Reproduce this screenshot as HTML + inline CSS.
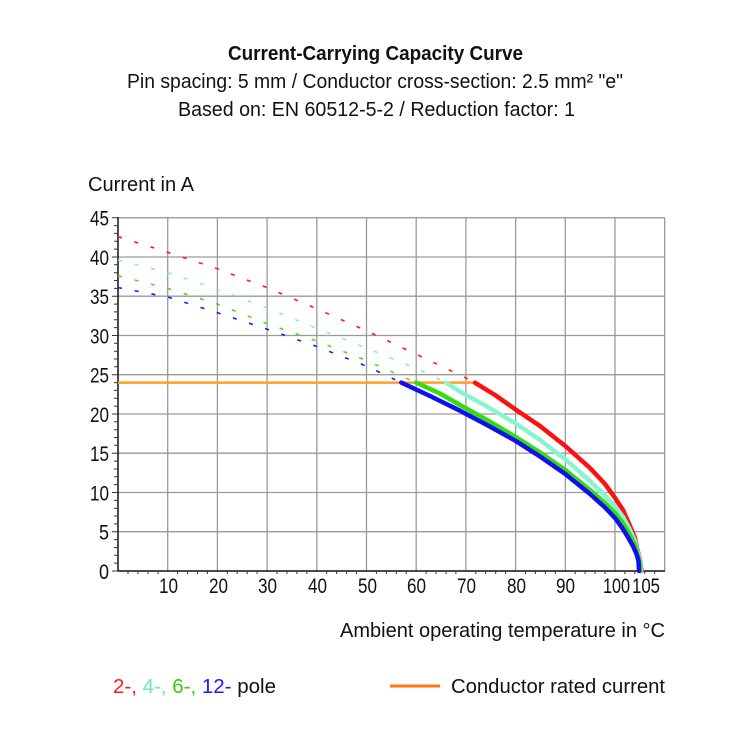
<!DOCTYPE html>
<html><head><meta charset="utf-8"><style>
html,body{margin:0;padding:0;background:#fff;}
svg{display:block;font-family:"Liberation Sans Narrow","Liberation Sans",sans-serif;}
</style></head><body>
<svg width="750" height="750" viewBox="0 0 750 750" xmlns="http://www.w3.org/2000/svg">
<g fill="#111">
<text x="228" y="60" font-size="20" font-weight="bold" textLength="295" lengthAdjust="spacingAndGlyphs">Current-Carrying Capacity Curve</text>
<text x="127" y="88" font-size="20" textLength="496" lengthAdjust="spacingAndGlyphs">Pin spacing: 5 mm / Conductor cross-section: 2.5 mm² "e"</text>
<text x="178" y="116" font-size="20" textLength="397" lengthAdjust="spacingAndGlyphs">Based on: EN 60512-5-2 / Reduction factor: 1</text>
<text x="88" y="191" font-size="20" textLength="106" lengthAdjust="spacingAndGlyphs">Current in A</text>
</g>
<g stroke="#9a9a9a" stroke-width="1.3">
<line x1="167.7" y1="217.7" x2="167.7" y2="571"/><line x1="217.4" y1="217.7" x2="217.4" y2="571"/>
<line x1="267.1" y1="217.7" x2="267.1" y2="571"/><line x1="316.8" y1="217.7" x2="316.8" y2="571"/>
<line x1="366.5" y1="217.7" x2="366.5" y2="571"/><line x1="416.2" y1="217.7" x2="416.2" y2="571"/>
<line x1="465.9" y1="217.7" x2="465.9" y2="571"/><line x1="515.6" y1="217.7" x2="515.6" y2="571"/>
<line x1="565.3" y1="217.7" x2="565.3" y2="571"/><line x1="615" y1="217.7" x2="615" y2="571"/>
<line x1="664.7" y1="217.7" x2="664.7" y2="571"/>
<line x1="118" y1="217.7" x2="664.7" y2="217.7"/><line x1="118" y1="257" x2="664.7" y2="257"/>
<line x1="118" y1="296.2" x2="664.7" y2="296.2"/><line x1="118" y1="335.5" x2="664.7" y2="335.5"/>
<line x1="118" y1="374.7" x2="664.7" y2="374.7"/><line x1="118" y1="414" x2="664.7" y2="414"/>
<line x1="118" y1="453.2" x2="664.7" y2="453.2"/><line x1="118" y1="492.5" x2="664.7" y2="492.5"/>
<line x1="118" y1="531.7" x2="664.7" y2="531.7"/>
</g>
<line x1="118" y1="217" x2="118" y2="571" stroke="#111" stroke-width="1.5"/>
<line x1="118" y1="571" x2="665" y2="571" stroke="#111" stroke-width="1.5"/>
<g stroke="#333" stroke-width="1">
<path d="M114 563.15h4M114 555.3h4M114 547.45h4M114 539.6h4M114 523.9h4M114 516h4M114 508.2h4M114 500.4h4M114 484.6h4M114 476.8h4M114 469h4M114 461.1h4M114 445.3h4M114 437.5h4M114 429.7h4M114 421.8h4M114 406.1h4M114 398.3h4M114 390.4h4M114 382.6h4M114 366.8h4M114 359h4M114 351.2h4M114 343.3h4M114 327.6h4M114 319.8h4M114 311.9h4M114 304.1h4M114 288.4h4M114 280.5h4M114 272.7h4M114 264.8h4M114 249.1h4M114 241.3h4M114 233.4h4M114 225.6h4M112 571h6M112 531.7h6M112 492.5h6M112 453.2h6M112 414h6M112 374.7h6M112 335.5h6M112 296.2h6M112 257h6M112 217.7h6"/>
<path d="M128 571v3M138 571v3M148 571v3M158 571v3M177.6 571v3M187.5 571v3M197.5 571v3M207.4 571v3M227.3 571v3M237.2 571v3M247.2 571v3M257.1 571v3M277 571v3M286.9 571v3M296.9 571v3M306.8 571v3M326.7 571v3M336.6 571v3M346.6 571v3M356.5 571v3M376.4 571v3M386.3 571v3M396.3 571v3M406.2 571v3M426.1 571v3M436 571v3M446 571v3M455.9 571v3M475.8 571v3M485.7 571v3M495.7 571v3M505.6 571v3M525.5 571v3M535.4 571v3M545.4 571v3M555.3 571v3M575.2 571v3M585.1 571v3M595.1 571v3M605 571v3M624.9 571v3M634.8 571v3M644.8 571v3M654.7 571v3"/>
</g>
<g font-size="21" fill="#111">
<text x="99" y="579" textLength="10" lengthAdjust="spacingAndGlyphs">0</text>
<text x="99" y="539.5" textLength="10" lengthAdjust="spacingAndGlyphs">5</text>
<text x="90" y="500.5" textLength="19" lengthAdjust="spacingAndGlyphs">10</text>
<text x="90" y="461" textLength="19" lengthAdjust="spacingAndGlyphs">15</text>
<text x="90" y="422" textLength="19" lengthAdjust="spacingAndGlyphs">20</text>
<text x="90" y="382.5" textLength="19" lengthAdjust="spacingAndGlyphs">25</text>
<text x="90" y="343.5" textLength="19" lengthAdjust="spacingAndGlyphs">30</text>
<text x="90" y="304" textLength="19" lengthAdjust="spacingAndGlyphs">35</text>
<text x="90" y="265" textLength="19" lengthAdjust="spacingAndGlyphs">40</text>
<text x="90" y="225.5" textLength="19" lengthAdjust="spacingAndGlyphs">45</text>
<text x="159" y="593" textLength="19" lengthAdjust="spacingAndGlyphs">10</text>
<text x="209" y="593" textLength="19" lengthAdjust="spacingAndGlyphs">20</text>
<text x="258" y="593" textLength="19" lengthAdjust="spacingAndGlyphs">30</text>
<text x="308" y="593" textLength="19" lengthAdjust="spacingAndGlyphs">40</text>
<text x="358" y="593" textLength="19" lengthAdjust="spacingAndGlyphs">50</text>
<text x="407" y="593" textLength="19" lengthAdjust="spacingAndGlyphs">60</text>
<text x="457" y="593" textLength="19" lengthAdjust="spacingAndGlyphs">70</text>
<text x="507" y="593" textLength="19" lengthAdjust="spacingAndGlyphs">80</text>
<text x="556" y="593" textLength="19" lengthAdjust="spacingAndGlyphs">90</text>
<text x="603" y="593" textLength="27" lengthAdjust="spacingAndGlyphs">100</text>
<text x="632" y="593" textLength="28" lengthAdjust="spacingAndGlyphs">105</text>
</g>
<text x="340" y="637" font-size="20" fill="#111" textLength="325" lengthAdjust="spacingAndGlyphs">Ambient operating temperature in °C</text>
<g fill="none" stroke-width="1.6" stroke-dasharray="4 13">
<polyline stroke="#ff1a1a" points="118,236.6 167.7,252.3 217.4,268.8 267.1,287.6 316.8,308.8 366.5,330.8 416.2,354.3 475.8,382.6"/>
<polyline stroke="#7ff0cc" points="118,260.1 167.7,272.7 217.4,289.2 267.1,308 316.8,328.4 366.5,348.1 416.2,368.5 446,382.6"/>
<polyline stroke="#44dd22" points="118,275.8 167.7,288.4 217.4,304.1 267.1,323.7 316.8,341 366.5,360.6 416.2,382.6"/>
<polyline stroke="#1a1aff" points="118,287.6 167.7,297 217.4,312.7 267.1,329.2 316.8,346.5 366.5,366.1 401.3,382.6"/>
</g>
<line x1="118" y1="382.6" x2="476" y2="382.6" stroke="#ffa020" stroke-width="2.5"/>
<g fill="none" stroke-width="4.5" stroke-linejoin="round" stroke-linecap="round">
<polyline stroke="#ff1010" points="475,382.7 495,395 515.3,409.3 540,426 565.3,446 590,468 605,484 615.3,498.3 623,510 630,526 635,538 637,548 640,560 641.5,571"/>
<polyline stroke="#88f5d0" points="446,382.6 460,391.7 487,406.5 515.3,423.3 540,440 565.3,459.3 590,481 605,495.5 615.3,506.7 623,517 630,530 635,541 637,550 640,561 641,571"/>
<polyline stroke="#33dd11" points="416.2,382.6 440,393.5 460,405 487,420 515.3,436.7 540,452.5 565.3,470 590,490 605,503 615.3,513.3 623,523 630,535 635,545 637,553 639.5,562 640,571"/>
<polyline stroke="#1010ee" points="401.3,382.6 430,396 460,410.7 487,425 515.3,440.7 540,456.5 565.3,474 590,494 605,507.5 615.3,518.3 623,529 629,539 633.3,546.7 636.5,554 638.5,561 639,571"/>
</g>
<text x="113" y="693" font-size="20" textLength="163" lengthAdjust="spacingAndGlyphs"><tspan fill="#ff1a1a">2-, </tspan><tspan fill="#66e8c0">4-, </tspan><tspan fill="#33cc11">6-, </tspan><tspan fill="#1a1aff">12-</tspan><tspan fill="#111"> pole</tspan></text>
<line x1="390" y1="686" x2="440" y2="686" stroke="#ff7a10" stroke-width="3"/>
<text x="451" y="693" font-size="20" fill="#111" textLength="214" lengthAdjust="spacingAndGlyphs">Conductor rated current</text>
</svg>
</body></html>
